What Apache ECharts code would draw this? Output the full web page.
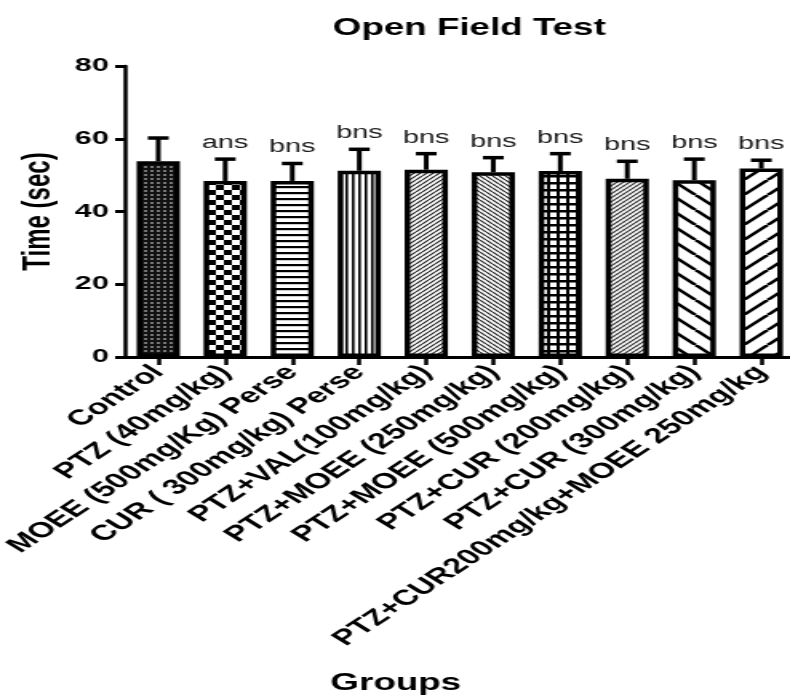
<!DOCTYPE html>
<html>
<head>
<meta charset="utf-8">
<title>Open Field Test</title>
<script src="https://cdn.jsdelivr.net/npm/echarts@6/dist/echarts.min.js"></script>
<style>
  html, body { margin: 0; padding: 0; background: #fff; overflow: hidden; }
  /* the source figure is stretched sideways, so draw narrow and scale up */
  #main { width: 494px; height: 695px; transform: scaleX(1.5992); transform-origin: 0 0; }
</style>
</head>
<body>
<div id="main"></div>
<script>
// data
const groups = [
  'Control',
  'PTZ (40mg/kg)',
  'MOEE (500mg/Kg) Perse',
  'CUR ( 300mg/kg) Perse',
  'PTZ+VAL(100mg/kg)',
  'PTZ+MOEE (250mg/kg)',
  'PTZ+MOEE (500mg/kg)',
  'PTZ+CUR (200mg/kg)',
  'PTZ+CUR (300mg/kg)',
  'PTZ+CUR200mg/kg+MOEE 250mg/kg'
]
const means = [53.8, 48.4, 48.4, 51.2, 51.5, 50.8, 51.1, 49.0, 48.6, 51.8]
const sems = [6.4, 6.0, 4.8, 5.9, 4.4, 4.0, 4.8, 4.8, 5.8, 2.3]
const sigLabels = ['', 'ans', 'bns', 'bns', 'bns', 'bns', 'bns', 'bns', 'bns', 'bns']
const yMin = 0
const yMax = 80
const yStep = 20

const FONT = "'Liberation Sans', Arial, sans-serif"

// small canvas tiles for the black & white fills
function tile(w, h, draw) {
  const c = document.createElement('canvas')
  c.width = w
  c.height = h
  const ctx = c.getContext('2d')
  ctx.fillStyle = '#fff'
  ctx.fillRect(0, 0, w, h)
  ctx.strokeStyle = '#000'
  ctx.fillStyle = '#000'
  draw(ctx, w, h)
  return { image: c, repeat: 'repeat' }
}
function back(ctx, p, lw) { // "\" lines
  ctx.lineWidth = lw
  ctx.beginPath()
  for (let k = -1; k <= 1; k++) {
    ctx.moveTo(k * p, 0)
    ctx.lineTo(k * p + p, p)
  }
  ctx.stroke()
}
function fwd(ctx, p, lw) { // "/" lines
  ctx.lineWidth = lw
  ctx.beginPath()
  for (let k = -1; k <= 1; k++) {
    ctx.moveTo(k * p, p)
    ctx.lineTo(k * p + p, 0)
  }
  ctx.stroke()
}

const fills = [
  tile(4, 4, (ctx) => { ctx.fillStyle = '#111'; ctx.fillRect(0, 0, 4, 2); ctx.fillRect(0, 0, 2, 4); ctx.fillStyle = '#777'; ctx.fillRect(2, 2, 2, 2) }),
  tile(10, 10, (ctx) => { ctx.fillRect(0, 0, 5, 5); ctx.fillRect(5, 5, 5, 5) }),
  tile(2, 6, (ctx) => { ctx.fillRect(0, 0, 2, 2.2) }),
  tile(4, 2, (ctx) => { ctx.fillRect(0, 0, 1.6, 2) }),
  tile(4, 4, (ctx) => { ctx.strokeStyle = '#222'; fwd(ctx, 4, 1.2) }),
  tile(4, 4, (ctx) => { ctx.strokeStyle = '#222'; back(ctx, 4, 1.2) }),
  tile(6, 7, (ctx) => { ctx.fillRect(0, 0, 2, 7); ctx.fillRect(0, 0, 6, 2.5) }),
  tile(4, 4, (ctx) => { ctx.strokeStyle = '#333'; fwd(ctx, 4, 1.1); ctx.strokeStyle = '#888'; back(ctx, 4, 0.6) }),
  tile(15, 15, (ctx) => { back(ctx, 15, 2.6) }),
  tile(15, 15, (ctx) => { fwd(ctx, 15, 2.6) })
]

const chart = echarts.init(document.getElementById('main'), null, { renderer: 'canvas' })

chart.setOption({
  animation: false,
  backgroundColor: '#fff',
  title: {
    text: 'Open Field Test',
    left: 208,
    top: 17,
    padding: 0,
    textStyle: { fontFamily: FONT, fontWeight: 'bold', fontSize: 23, color: '#000' }
  },
  grid: {
    left: 78,
    top: 66,
    width: 419,
    height: 291,
    outerBoundsMode: 'none',
    containLabel: false
  },
  xAxis: {
    type: 'category',
    data: groups,
    name: 'Groups',
    nameLocation: 'middle',
    nameGap: 315,
    nameTextStyle: {
      fontFamily: FONT, fontWeight: 'bold', fontSize: 23, color: '#000',
      padding: [0, 80, 0, 0]
    },
    axisLine: { show: true, lineStyle: { color: '#000', width: 3 } },
    axisTick: { show: true, alignWithLabel: true, length: 8, lineStyle: { color: '#000', width: 2.5 } },
    axisLabel: {
      interval: 0,
      rotate: 46,
      margin: 12,
      fontFamily: FONT,
      fontWeight: 'bold',
      fontSize: 21.5,
      color: '#000'
    },
    splitLine: { show: false }
  },
  yAxis: {
    type: 'value',
    min: yMin,
    max: yMax,
    interval: yStep,
    name: 'Time (sec)',
    nameLocation: 'middle',
    nameGap: 30,
    nameTextStyle: { fontFamily: FONT, fontWeight: 'bold', fontSize: 24, color: '#000' },
    axisLine: { show: true, lineStyle: { color: '#000', width: 2.5 } },
    axisTick: { show: true, length: 6, lineStyle: { color: '#000', width: 3 } },
    axisLabel: { margin: 10, fontFamily: FONT, fontWeight: 'bold', fontSize: 19, color: '#000' },
    splitLine: { show: false }
  },
  series: [
    {
      name: 'Time',
      type: 'bar',
      barWidth: 27,
      data: means.map((v, i) => ({
        value: v,
        itemStyle: { color: fills[i], borderColor: '#000', borderWidth: 3.5 }
      })),
      emphasis: { disabled: true },
      z: 2
    },
    {
      name: 'SEM',
      type: 'custom',
      data: means.map((v, i) => [i, v, v + sems[i]]),
      encode: { x: 0, y: [1, 2] },
      z: 3,
      renderItem: (params, api) => {
        const i = api.value(0)
        const base = api.coord([i, api.value(1)])
        const top = api.coord([i, api.value(2)])
        const cap = 6.5
        return {
          type: 'group',
          children: [
            {
              type: 'line',
              shape: { x1: base[0], y1: base[1], x2: top[0], y2: top[1] },
              style: { stroke: '#000', lineWidth: 3 }
            },
            {
              type: 'line',
              shape: { x1: top[0] - cap, y1: top[1], x2: top[0] + cap, y2: top[1] },
              style: { stroke: '#000', lineWidth: 3.5 }
            },
            {
              type: 'text',
              style: {
                text: sigLabels[params.dataIndex],
                x: top[0],
                y: top[1] - 7,
                textAlign: 'center',
                textVerticalAlign: 'bottom',
                fontFamily: FONT,
                fontSize: 18,
                fill: '#1a1a1a'
              }
            }
          ]
        }
      }
    }
  ]
})
</script>
</body>
</html>
